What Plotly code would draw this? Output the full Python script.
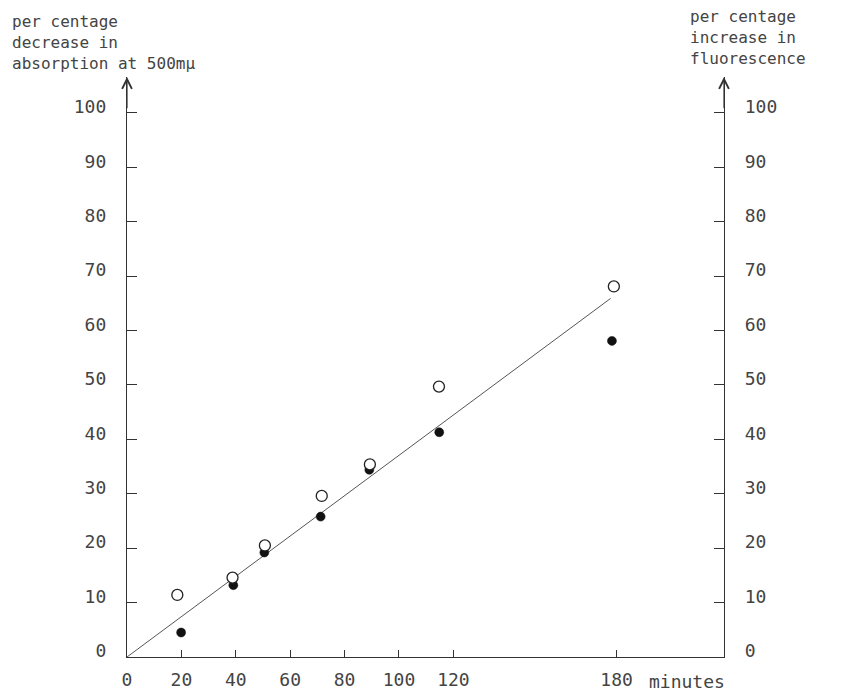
import plotly.graph_objects as go

# ---- data ----
time_open = [18.5, 38.8, 50.7, 71.6, 89.3, 114.7, 179.0]
fluor_increase = [11.4, 14.6, 20.5, 29.6, 35.4, 49.7, 68.1]
time_filled = [19.9, 39.1, 50.5, 71.2, 89.1, 114.8, 178.3]
absorb_decrease = [4.5, 13.2, 19.2, 25.8, 34.4, 41.3, 58.1]
fit_x = [0, 177.8]
fit_y = [0, 65.9]

x_tickvals = [0, 20, 40, 60, 80, 100, 120, 180]
x_ticktext = ["0", "20", "40", "60", "80", "100", "120", "180"]
y_tickvals = [0, 10, 20, 30, 40, 50, 60, 70, 80, 90, 100]
y_ticktext = [str(v) for v in y_tickvals]

left_title = ["per centage", "decrease in", "absorption at 500m\u03bc"]
right_title = ["per centage", "increase in", "fluorescence"]
x_unit = "minutes"

# page body adds an 8px offset, so the figure is sized to the visible area
OFF = 8
W, H = 854 - OFF, 691 - OFF
FONT = "DejaVu Sans Mono"
INK = "#333333"
TXT = "#444444"
X_MAX = 219.5
Y_MAX = 106.6


def px(xr):
    return (xr - OFF) / W


def py(yr):
    return 1 - (yr - OFF) / H


fig = go.Figure()
fig.add_trace(go.Scatter(x=fit_x, y=fit_y, mode="lines",
                         line=dict(color="#555555", width=1), showlegend=False,
                         hoverinfo="skip"))
fig.add_trace(go.Scatter(x=time_open, y=fluor_increase, mode="markers", yaxis="y2",
                         marker=dict(symbol="circle", size=11, color="white",
                                     line=dict(color="#222222", width=1.3)),
                         showlegend=False))
fig.add_trace(go.Scatter(x=time_filled, y=absorb_decrease, mode="markers",
                         marker=dict(symbol="circle", size=9, color="#111111",
                                     line=dict(color="#111111", width=0.5)),
                         showlegend=False))

axis_common = dict(showgrid=False, zeroline=False, showline=True, linecolor=INK,
                   linewidth=1.3, ticks="inside", tickcolor=INK, tickwidth=1.3,
                   automargin=False,
                   tickfont=dict(family=FONT, size=18, color=TXT))

fig.update_layout(
    width=W, height=H,
    margin=dict(l=0, r=0, t=0, b=0, pad=0, autoexpand=False),
    paper_bgcolor="white", plot_bgcolor="white",
    xaxis=dict(domain=[px(127), px(724)], range=[0, X_MAX],
               tickvals=x_tickvals, ticktext=x_ticktext, ticklen=7,
               ticklabelstandoff=6, **axis_common),
    yaxis=dict(domain=[py(657), py(77)], range=[0, Y_MAX], tickvals=y_tickvals,
               ticktext=y_ticktext, ticklen=10, ticklabelstandoff=16,
               ticklabelshift=-6, side="left", **axis_common),
    yaxis2=dict(range=[0, Y_MAX], tickvals=y_tickvals, ticktext=y_ticktext,
                overlaying="y", side="right", anchor="x", ticklen=10,
                ticklabelstandoff=16, ticklabelshift=-6, **axis_common),
)

annotations = []
# arrowheads on the two vertical axes
for xv in (0, X_MAX):
    annotations.append(dict(x=xv, y=Y_MAX, ax=xv, ay=Y_MAX - 6, xref="x", yref="y",
                            axref="x", ayref="y", text="", showarrow=True,
                            arrowhead=5, arrowsize=1.6, arrowwidth=1.2,
                            arrowcolor=INK, standoff=0))
annotations.append(dict(x=px(10), y=py(42), xref="paper", yref="paper",
                        xanchor="left", yanchor="middle", align="left",
                        text="<br>".join(left_title), showarrow=False,
                        font=dict(family=FONT, size=16, color=TXT)))
annotations.append(dict(x=px(688), y=py(37), xref="paper", yref="paper",
                        xanchor="left", yanchor="middle", align="left",
                        text="<br>".join(right_title), showarrow=False,
                        font=dict(family=FONT, size=16, color=TXT)))
annotations.append(dict(x=px(647), y=py(681), xref="paper", yref="paper",
                        xanchor="left", yanchor="middle", text=x_unit,
                        showarrow=False, font=dict(family=FONT, size=18, color=TXT)))
fig.update_layout(annotations=annotations)

fig.write_html("out.html")
